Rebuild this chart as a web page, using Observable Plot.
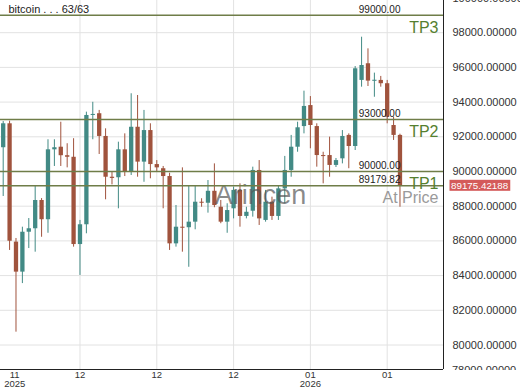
<!DOCTYPE html>
<html><head><meta charset="utf-8">
<script src="https://cdn.jsdelivr.net/npm/d3@7"></script>
<script src="https://cdn.jsdelivr.net/npm/@observablehq/plot@0.6"></script>
<style>body{margin:0;background:#fff;font-family:"Liberation Sans",Arial,sans-serif}</style>
</head><body><div id="chart"></div>
<script>
const opens=[91370,92750,85930,84200,86500,86700,88330,87220,91250,91400,
90910,90820,85790,86930,93230,93330,92020,89670,89640,91250,
89960,92550,90540,92360,90400,90160,89710,85830,86790,86760,
87080,88230,88170,88860,87940,87080,87850,88910,87410,87710,
90060,87180,88230,87410,89000,90060,91400,92590,93800,92590,
90920,90920,90350,90730,92080,91440,95250,96210,95200,95250,
95060,92650,92080];
const highs=[92880,92900,86140,86790,87290,89140,88440,91830,91830,92840,
91600,91890,87180,93420,93990,93520,92460,89960,91690,92170,
94480,94380,93520,92750,90630,90290,89900,88040,90210,89190,
89190,88430,89480,90440,88330,88140,89100,89290,87940,90250,
90630,88910,88520,89190,90870,92080,92840,94630,94320,92750,
91110,91980,90750,92360,92170,96050,97740,97070,95670,95480,
95250,93130,92150];
const lows=[88560,85450,80740,83540,85560,85350,86210,86440,90290,90290,
90210,85640,84010,86410,91830,90980,88370,89230,87850,89710,
89770,89670,89380,89580,89960,87850,85450,85640,85350,84480,
86640,87940,87600,87910,86990,86440,87270,86790,87270,87370,
86890,87080,87180,87180,88140,89670,91110,92170,91310,90250,
89290,89670,90230,90440,90160,91210,94860,94900,94280,94860,
92750,91790,87940];
const closes=[92750,85980,84200,86500,86700,88330,87220,91250,91370,90910,
90820,85790,86930,93230,93290,92020,89670,89600,91250,89960,
92550,90540,92360,90400,90210,89710,85830,86790,86730,87080,
88230,88170,88860,88040,87080,87750,88910,87410,87650,90060,
87270,88230,87410,89000,90060,91400,92520,93750,92650,90920,
90860,90350,90630,92020,91440,95920,96110,95210,95260,95060,
93130,92080,89175.42];

const xTickPos=[1.8,12,24,36,48,60];
const xTickLabels=["11\n2025","12","12","12","01\n2026","01"];
const yTicks=[80000,82000,84000,86000,88000,90000,92000,94000,96000,98000,100000];
const yEdgeTick=78000;
const levels=[99000,93000,90000,89179.82];
const levelValueLabels=["99000.00","93000.00","90000.00","89179.82"];
const levelNames=["TP3","TP2","TP1","At Price"];
const levelNameColors=["#55802f","#55802f","#55802f","#9a9a9a"];
const lastPrice=89175.42188;
const lastPriceLabel="89175.42188";
const seriesName="bitcoin";
const legendCount="63/63";
const watermark="Arincen";

const candles=opens.map((o,i)=>({i,open:o,high:highs[i],low:lows[i],close:closes[i],up:closes[i]>=o}));
const UP="#428a85", DOWN="#a0533d";
const xDomain=[-0.42,68.8], yDomain=[78588,99856];
const FONT='"Liberation Sans", Arial, sans-serif';

const chart=Plot.plot({
  width:520,height:390,marginLeft:0,marginRight:77,marginTop:0,marginBottom:21,
  style:{fontFamily:FONT,background:"#fff",overflow:"visible"},
  x:{type:"linear",domain:xDomain,label:null},
  y:{domain:yDomain,label:null},
  marks:[
    Plot.gridY(yTicks,{stroke:"#e2e2e2",strokeOpacity:1}),
    Plot.gridX(xTickPos.slice(1),{stroke:"#e2e2e2",strokeOpacity:1}),
    Plot.ruleX(candles,{x:"i",y1:"low",y2:"high",stroke:d=>d.up?UP:DOWN,strokeWidth:1}),
    Plot.ruleX(candles,{x:"i",y1:"open",y2:"close",stroke:d=>d.up?UP:DOWN,strokeWidth:4.3}),
    Plot.text([watermark],{frameAnchor:"middle",dx:38.5,dy:10.5,fontSize:27,fill:"#555",fillOpacity:0.7}),
    Plot.ruleY(levels,{stroke:"#6f7d48",strokeWidth:1.5}),
    Plot.text(levels,{y:d=>d,text:(d,i)=>levelValueLabels[i],frameAnchor:"right",textAnchor:"end",dx:-43,dy:-6,fontSize:10,fill:"#222"}),
    Plot.text(levels,{y:d=>d,text:(d,i)=>levelNames[i],frameAnchor:"right",textAnchor:"end",dx:-5,dy:12.5,fontSize:16,fill:(d,i)=>levelNameColors[i]}),
    Plot.text([`${seriesName} . . . ${legendCount}`],{frameAnchor:"top-left",dx:8,dy:5,lineAnchor:"top",fontSize:11,fill:"#222"}),
    Plot.ruleX([xDomain[1]],{stroke:"#222",strokeWidth:1}),
    Plot.ruleY([yDomain[0]],{stroke:"#222",strokeWidth:1}),
    Plot.axisY(yTicks,{anchor:"right",tickSize:0,tickPadding:9,tickFormat:d=>d.toFixed(5),fontSize:11,color:"#333",label:null}),
    Plot.axisX(xTickPos,{tickSize:0,tickPadding:2,tickFormat:d=>xTickLabels[xTickPos.indexOf(d)],fontSize:9.5,lineHeight:0.95,color:"#333",label:null})
  ]
});
document.getElementById("chart").appendChild(chart);

const svg=d3.select(chart);
const ys=chart.scale("y"), xs=chart.scale("x");
const yBottom=ys.apply(yDomain[0]), xp=xs.apply(xDomain[1]);

// partially hidden edge label under the plot bottom (clipped)
svg.append("defs").append("clipPath").attr("id","axisclip")
  .append("rect").attr("x",xp).attr("y",0).attr("width",200).attr("height",yBottom+1);
svg.append("g").attr("clip-path","url(#axisclip)")
  .append("text").attr("x",xp+9).attr("y",yBottom+5).attr("text-anchor","start")
  .attr("font-size",11).attr("font-family",FONT).attr("fill","#333").text(yEdgeTick.toFixed(5));

// last price tag on right axis
const yp=ys.apply(lastPrice);
const g=svg.append("g").attr("text-anchor","start");
const t=g.append("text").attr("x",xp+8).attr("y",yp).attr("dy","0.35em")
  .attr("text-anchor","start").attr("fill","#fff").attr("font-size",9.8).attr("font-family",FONT).text(lastPriceLabel);
const bb=t.node().getBBox();
g.insert("rect","text").attr("x",bb.x-1.5).attr("y",yp-5.5).attr("width",bb.width+3).attr("height",11).attr("fill","#d45a5a");
</script></body></html>
